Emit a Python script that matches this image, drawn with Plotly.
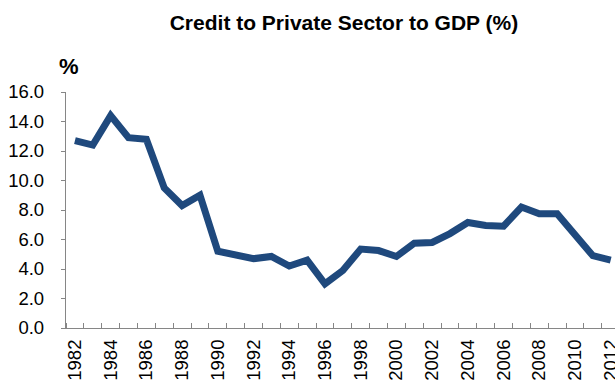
import plotly.graph_objects as go

years = list(range(1982, 2013))
credit_pct = [12.7, 12.4, 14.4, 12.9, 12.8, 9.5, 8.3, 9.0, 5.2, 5.0,
              4.7, 4.85, 4.2, 4.6, 3.0, 3.9, 5.35, 5.25, 4.85, 5.75,
              5.8, 6.4, 7.15, 6.95, 6.9, 8.2, 7.75, 7.75, 6.3, 4.9, 4.6]
x_tick_years = list(range(1982, 2013, 2))
y_ticks = [0, 2, 4, 6, 8, 10, 12, 14, 16]

font_family = "Liberation Sans, Arial, sans-serif"

fig = go.Figure(go.Scatter(
    x=years, y=credit_pct, mode="lines",
    line=dict(color="#1F497D", width=7),
    hoverinfo="skip",
))

fig.update_layout(
    width=615, height=380,
    margin=dict(l=66, r=0, t=92, b=52),
    paper_bgcolor="white", plot_bgcolor="white",
    showlegend=False,
    title=dict(text="<b>Credit to Private Sector to GDP (%)</b>",
               x=0.5593, xanchor="center", y=0.941, yanchor="middle",
               font=dict(family=font_family, size=21, color="black")),
    annotations=[dict(text="<b>%</b>", xref="paper", yref="paper",
                      x=0.005, y=1.11, xanchor="center", yanchor="middle",
                      showarrow=False,
                      font=dict(family=font_family, size=22, color="black"))],
)

fig.update_xaxes(
    range=[1981.5, 2012.24], automargin=False,
    tickmode="array", tickvals=x_tick_years,
    ticktext=[str(y) for y in x_tick_years],
    tickangle=-90, ticks="", ticklen=0,
    ticklabelstandoff=3, ticklabeloverflow="allow",
    tickfont=dict(family=font_family, size=18.5, color="black"),
    showline=True, linecolor="#868686", linewidth=1.3,
    showgrid=False, zeroline=False,
    minor=dict(tick0=1981.5, dtick=1, ticks="inside", ticklen=5,
               tickcolor="#868686", tickwidth=1, showgrid=False),
)

fig.update_yaxes(
    range=[0, 16], automargin=False,
    tickmode="array", tickvals=y_ticks,
    ticktext=[f"{v:.1f}" for v in y_ticks],
    ticks="outside", ticklen=4, tickcolor="#868686", tickwidth=1,
    ticklabelstandoff=13,
    tickfont=dict(family=font_family, size=18.5, color="black"),
    showline=True, linecolor="#868686", linewidth=1.3,
    showgrid=False, zeroline=False,
)

fig.write_html("out.html", config={"displayModeBar": False},
               post_script="document.body.style.margin='0';document.body.style.overflow='hidden';")
